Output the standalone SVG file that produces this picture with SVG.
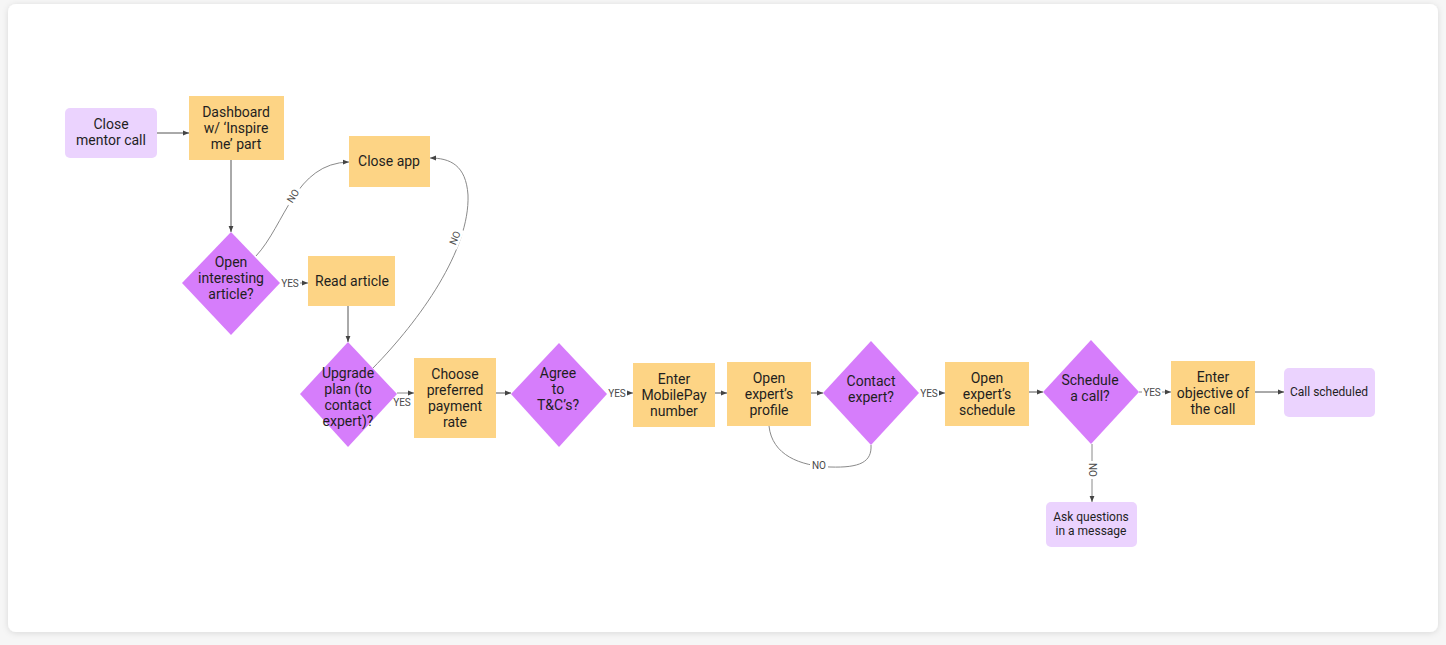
<svg xmlns="http://www.w3.org/2000/svg" width="1446" height="645" viewBox="0 0 1446 645">
<defs>
<marker id="ah" viewBox="0 0 10 10" refX="10" refY="5" markerWidth="6" markerHeight="6" orient="auto" markerUnits="userSpaceOnUse"><path d="M0,1 L10,5 L0,9 z" fill="#444"/></marker>
<filter id="sh" x="-5%" y="-5%" width="110%" height="110%"><feDropShadow dx="0" dy="1" stdDeviation="3" flood-color="#000" flood-opacity="0.12"/></filter>
<style>
.t{font-family:Roboto,"Liberation Sans",sans-serif;font-size:14px;fill:#1f1f1f;text-anchor:middle;dominant-baseline:central}
.s{font-size:12px}
.lb{font-family:Roboto,"Liberation Sans",sans-serif;font-size:10px;fill:#4a4a4a;text-anchor:middle;dominant-baseline:central}
.o{fill:#fdd485}
.p{fill:#d67dfb}
.l{fill:#ebd3fe}
.c{fill:none;stroke:#8a8a8a;stroke-width:1}
.cd{fill:none;stroke:#555;stroke-width:1}
</style>
</defs>
<rect x="0" y="0" width="1446" height="645" fill="#f6f6f6"/>
<rect x="8" y="4" width="1430" height="628" rx="8" fill="#ffffff" filter="url(#sh)"/>

<g id="connectors">
<path class="cd" d="M157,133 H189" marker-end="url(#ah)"/>
<path class="cd" d="M231,160 V232" marker-end="url(#ah)"/>
<path class="c" d="M256,256 C285,225 295,163 349,162" marker-end="url(#ah)"/>
<path class="c" d="M280,283 H308" marker-end="url(#ah)"/>
<path class="cd" d="M348,306 V342" marker-end="url(#ah)"/>
<path class="c" d="M373,368 C420,320 470,250 468,195 C466,165 450,158 430,158" marker-end="url(#ah)"/>
<path class="c" d="M397,393 H414" marker-end="url(#ah)"/>
<path class="cd" d="M496,393 H511" marker-end="url(#ah)"/>
<path class="c" d="M607,393 H633" marker-end="url(#ah)"/>
<path class="cd" d="M715,393 H727" marker-end="url(#ah)"/>
<path class="cd" d="M811,393 H823" marker-end="url(#ah)"/>
<path class="c" d="M769,426 C772,455 800,466 830,467 C860,468 872,462 871,445"/>
<path class="c" d="M919,393 H945" marker-end="url(#ah)"/>
<path class="cd" d="M1029,392 H1043" marker-end="url(#ah)"/>
<path class="c" d="M1139,392 H1171" marker-end="url(#ah)"/>
<path class="cd" d="M1255,392 H1284" marker-end="url(#ah)"/>
<path class="c" d="M1092,444 V502" marker-end="url(#ah)"/>
<rect x="283" y="190" width="20" height="12" fill="#fff" transform="rotate(-58 293 196)"/>
<text class="lb" x="293" y="196" transform="rotate(-58 293 196)">NO</text>
<rect x="280" y="277" width="20" height="12" fill="#fff"/>
<text class="lb" x="290" y="283">YES</text>
<rect x="445" y="232" width="20" height="12" fill="#fff" transform="rotate(-68 455 238)"/>
<text class="lb" x="455" y="238" transform="rotate(-68 455 238)">NO</text>
<text class="lb" x="402" y="402">YES</text>
<rect x="607" y="387" width="20" height="12" fill="#fff"/>
<text class="lb" x="617" y="393">YES</text>
<rect x="810" y="459" width="18" height="12" fill="#fff"/>
<text class="lb" x="819" y="465">NO</text>
<rect x="919" y="387" width="20" height="12" fill="#fff"/>
<text class="lb" x="929" y="393">YES</text>
<rect x="1142" y="386" width="20" height="12" fill="#fff"/>
<text class="lb" x="1152" y="392">YES</text>
<rect x="1086" y="461" width="12" height="18" fill="#fff"/>
<text class="lb" x="1092" y="470" transform="rotate(90 1092 470)">NO</text>
</g>

<g id="n-close-mentor"><rect class="l" x="65" y="108" width="92" height="50" rx="5"/><text class="t" x="111" y="124">Close</text><text class="t" x="111" y="140">mentor call</text></g>
<g id="n-dashboard"><rect class="o" x="189" y="96" width="95" height="64"/><text class="t" x="236" y="112">Dashboard</text><text class="t" x="236" y="128">w/ ‘Inspire</text><text class="t" x="236" y="144">me’ part</text></g>
<g id="n-close-app"><rect class="o" x="349" y="136" width="81" height="51"/><text class="t" x="389" y="161">Close app</text></g>
<g id="n-open-article"><path class="p" d="M231,232 L280,283 L231,335 L182,283 z"/><text class="t" x="231" y="262">Open</text><text class="t" x="231" y="278">interesting</text><text class="t" x="231" y="294">article?</text></g>
<g id="n-read-article"><rect class="o" x="308" y="256" width="87" height="50"/><text class="t" x="352" y="281">Read article</text></g>
<g id="n-upgrade"><path class="p" d="M348,342 L397,394 L348,447 L300,394 z"/><text class="t" x="348" y="373">Upgrade</text><text class="t" x="348" y="389">plan (to</text><text class="t" x="348" y="405">contact</text><text class="t" x="348" y="421">expert)?</text></g>
<g id="n-choose-rate"><rect class="o" x="414" y="358" width="82" height="80"/><text class="t" x="455" y="374">Choose</text><text class="t" x="455" y="390">preferred</text><text class="t" x="455" y="406">payment</text><text class="t" x="455" y="422">rate</text></g>
<g id="n-agree"><path class="p" d="M559,343 L607,394 L559,447 L511,394 z"/><text class="t" x="558" y="373">Agree</text><text class="t" x="558" y="389">to</text><text class="t" x="558" y="405">T&amp;C’s?</text></g>
<g id="n-mobilepay"><rect class="o" x="633" y="363" width="82" height="64"/><text class="t" x="674" y="379">Enter</text><text class="t" x="674" y="395">MobilePay</text><text class="t" x="674" y="411">number</text></g>
<g id="n-expert-profile"><rect class="o" x="727" y="362" width="84" height="64"/><text class="t" x="769" y="378">Open</text><text class="t" x="769" y="394">expert’s</text><text class="t" x="769" y="410">profile</text></g>
<g id="n-contact"><path class="p" d="M871,341 L919,393 L871,445 L823,393 z"/><text class="t" x="871" y="381">Contact</text><text class="t" x="871" y="397">expert?</text></g>
<g id="n-expert-schedule"><rect class="o" x="945" y="362" width="84" height="64"/><text class="t" x="987" y="378">Open</text><text class="t" x="987" y="394">expert’s</text><text class="t" x="987" y="410">schedule</text></g>
<g id="n-schedule-call"><path class="p" d="M1091,340 L1139,392 L1091,444 L1043,392 z"/><text class="t" x="1090" y="380">Schedule</text><text class="t" x="1090" y="396">a call?</text></g>
<g id="n-objective"><rect class="o" x="1171" y="361" width="84" height="64"/><text class="t" x="1213" y="377">Enter</text><text class="t" x="1213" y="393">objective of</text><text class="t" x="1213" y="409">the call</text></g>
<g id="n-call-scheduled"><rect class="l" x="1284" y="368" width="91" height="49" rx="5"/><text class="t s" x="1329" y="392">Call scheduled</text></g>
<g id="n-ask-questions"><rect class="l" x="1046" y="502" width="91" height="45" rx="5"/><text class="t s" x="1091" y="517">Ask questions</text><text class="t s" x="1091" y="531">in a message</text></g>
</svg>
